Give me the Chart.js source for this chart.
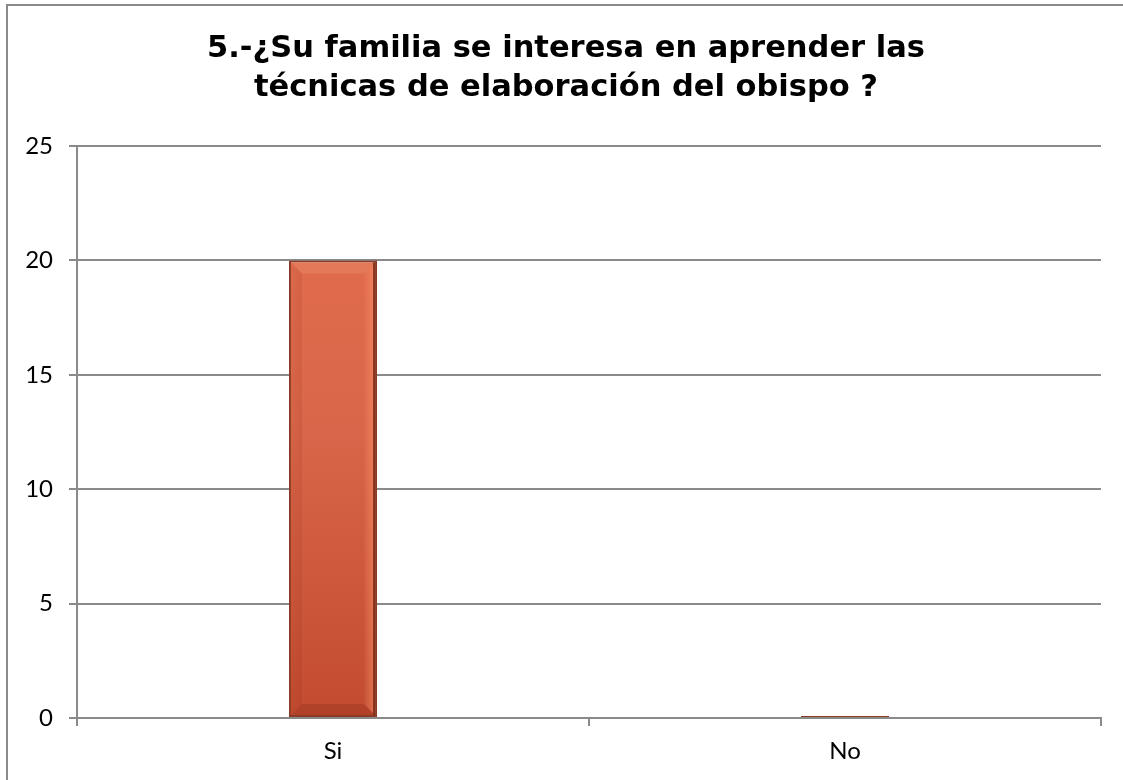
<!DOCTYPE html>
<html lang="es">
<head>
<meta charset="utf-8">
<title>Encuesta - pregunta 5</title>
<script src="https://cdn.jsdelivr.net/npm/chart.js@4.4.1/dist/chart.umd.min.js"></script>
<style>
  html, body { margin: 0; padding: 0; background: #fff; }
  #wrap { width: 1123px; height: 780px; }
</style>
</head>
<body>
<div id="wrap"><canvas id="grafico"></canvas></div>
<script>
const categorias = ['Si', 'No'];
const respuestas = [20, 0];
const tituloLineas = ['5.-¿Su familia se interesa en aprender las', 'técnicas de elaboración del obispo ?'];
const ejeY = { min: 0, max: 25, paso: 5 };

const gris = '#8a8a8a';
const fuenteEjes = { family: 'Lato', size: 24 };

// marco exterior y titulo centrado sobre el marco
const marco = {
    id: 'marco',
    beforeDraw(chart) {
        const ctx = chart.ctx;
        ctx.save();
        ctx.fillStyle = '#fff';
        ctx.fillRect(0, 0, chart.width, chart.height);
        ctx.strokeStyle = gris;
        ctx.lineWidth = 2;
        ctx.strokeRect(7, 5, chart.width + 20, chart.height + 20);
        ctx.fillStyle = '#000';
        ctx.font = 'bold 30.5px "DejaVu Sans"';
        ctx.textAlign = 'center';
        ctx.textBaseline = 'alphabetic';
        tituloLineas.forEach((linea, i) => ctx.fillText(linea, 566, 57 + i * 39));
        ctx.restore();
    }
};

// biselado de las barras
const bisel = {
    id: 'bisel',
    afterDatasetsDraw(chart) {
        const ctx = chart.ctx;
        chart.getDatasetMeta(0).data.forEach(bar => {
            const p = bar.getProps(['x', 'y', 'base', 'width'], true);
            const l = p.x - p.width / 2, r = p.x + p.width / 2;
            const t = Math.min(p.y, p.base), b = Math.max(p.y, p.base);
            const h = b - t;
            if (h < 20) return;
            const e = 13;
            ctx.save();
            const poly = (pts, fill) => {
                ctx.beginPath();
                ctx.moveTo(pts[0][0], pts[0][1]);
                pts.slice(1).forEach(q => ctx.lineTo(q[0], q[1]));
                ctx.closePath();
                ctx.fillStyle = fill;
                ctx.fill();
            };
            // arriba
            poly([[l + 2, t + 2], [r - 2, t + 2], [r - e, t + e], [l + e, t + e]], 'rgba(255,200,170,0.15)');
            // derecha
            const gd = ctx.createLinearGradient(r - e, 0, r - 2, 0);
            gd.addColorStop(0, 'rgba(255,150,110,0.05)');
            gd.addColorStop(1, 'rgba(255,150,110,0.55)');
            poly([[r - 2, t + 2], [r - 2, b - 2], [r - e, b - e], [r - e, t + e]], gd);
            // abajo
            poly([[l + 2, b - 2], [r - 2, b - 2], [r - e, b - e], [l + e, b - e]], 'rgba(90,20,0,0.16)');
            // izquierda
            const gi = ctx.createLinearGradient(l + 2, 0, l + e, 0);
            gi.addColorStop(0, 'rgba(120,30,10,0.04)');
            gi.addColorStop(1, 'rgba(120,30,10,0.12)');
            poly([[l + 2, t + 2], [l + 2, b - 2], [l + e, b - e], [l + e, t + e]], gi);
            // linea oscura interior a la derecha
            ctx.fillStyle = 'rgba(110,35,15,0.8)';
            ctx.fillRect(r - 4, t + 2, 2, h - 4);
            ctx.restore();
        });
    }
};

function rellenoBarra(c) {
    const area = c.chart.chartArea;
    if (!area) return '#d9664a';
    const g = c.chart.ctx.createLinearGradient(0, area.top, 0, area.bottom);
    g.addColorStop(0, '#e5704f');
    g.addColorStop(0.5, '#d9664a');
    g.addColorStop(1, '#c24b30');
    return g;
}

new Chart(document.getElementById('grafico'), {
    type: 'bar',
    data: {
        labels: categorias,
        datasets: [{
            label: 'Respuestas',
            data: respuestas,
            backgroundColor: rellenoBarra,
            borderColor: '#8b3a25',
            borderWidth: 2,
            borderSkipped: false,
            minBarLength: 2,
            categoryPercentage: 1,
            barPercentage: 0.172
        }]
    },
    options: {
        responsive: true,
        maintainAspectRatio: false,
        animation: false,
        layout: { padding: { left: 0, right: 22, top: 146, bottom: 0 } },
        plugins: {
            legend: { display: false },
            tooltip: { enabled: false },
            title: { display: false }
        },
        scales: {
            x: {
                grid: {
                    offset: true,
                    drawOnChartArea: false,
                    color: gris,
                    lineWidth: 2,
                    tickLength: 8
                },
                border: { color: gris, width: 2 },
                ticks: { color: '#000', font: fuenteEjes, padding: 11 },
                afterFit(scale) { scale.height = 62; }
            },
            y: {
                min: ejeY.min,
                max: ejeY.max,
                grid: { color: gris, lineWidth: 2, tickLength: 8 },
                border: { color: gris, width: 2 },
                ticks: { stepSize: ejeY.paso, color: '#000', font: fuenteEjes, padding: 16 },
                afterFit(scale) { scale.width = 77; }
            }
        }
    },
    plugins: [marco, bisel]
});
</script>
</body>
</html>
